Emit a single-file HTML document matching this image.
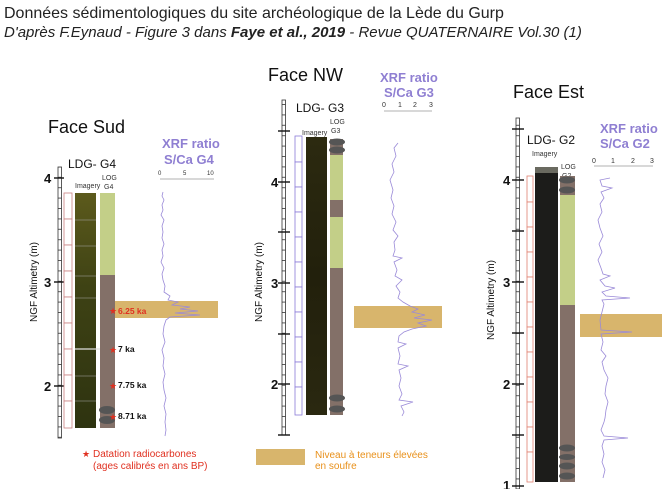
<!DOCTYPE html>
<html><head><meta charset="utf-8"><style>
body{margin:0;background:#fff;}
svg{display:block;font-family:"Liberation Sans",sans-serif;}
</style></head><body>
<svg width="672" height="489" viewBox="0 0 672 489" xmlns="http://www.w3.org/2000/svg">
<defs>
<pattern id="tk" width="4" height="10.4" patternUnits="userSpaceOnUse"><line x1="0" y1="0.5" x2="4" y2="0.5" stroke="#333" stroke-width="0.8"/></pattern>
<linearGradient id="olive" x1="0" y1="0" x2="0" y2="1"><stop offset="0" stop-color="#5c5a1c"/><stop offset="0.4" stop-color="#3e4214"/><stop offset="1" stop-color="#2e3310"/></linearGradient>
<linearGradient id="olive2" x1="0" y1="0" x2="0" y2="1"><stop offset="0" stop-color="#2c2a10"/><stop offset="0.5" stop-color="#22200c"/><stop offset="1" stop-color="#2a2810"/></linearGradient>
</defs>
<text x="4" y="18" font-size="16" fill="#222">Données sédimentologiques du site archéologique de la Lède du Gurp</text>
<text x="4" y="37" font-size="15" fill="#222" font-style="italic">D'après F.Eynaud - Figure 3 dans <tspan font-weight="bold">Faye et al., 2019</tspan> - Revue QUATERNAIRE Vol.30 (1)</text>

<!-- ===== Face Sud ===== -->
<text x="48" y="133" font-size="18" fill="#111">Face Sud</text>
<text x="68" y="168" font-size="12" fill="#111">LDG- G4</text>
<text x="75" y="188" font-size="7" fill="#333">Imagery</text>
<text x="102" y="180" font-size="7" fill="#333">LOG</text>
<text x="104" y="189" font-size="7" fill="#333">G4</text>
<text x="162" y="148" font-size="13" font-weight="bold" fill="#8f7fd2">XRF ratio</text>
<text x="164" y="164" font-size="13" font-weight="bold" fill="#8f7fd2">S/Ca G4</text>
<text x="158" y="175" font-size="6" fill="#333">0</text><text x="183" y="175" font-size="6" fill="#333">5</text><text x="207" y="175" font-size="6" fill="#333">10</text>
<line x1="160" y1="179" x2="214" y2="179" stroke="#999" stroke-width="0.7"/>
<rect x="58" y="167" width="3.5" height="271" fill="#fff" stroke="#333" stroke-width="0.8"/>
<rect x="58" y="167" width="3.5" height="271" fill="url(#tk)"/>
<g stroke="#111" stroke-width="1.4"><line x1="54" y1="178" x2="64" y2="178"/><line x1="54" y1="282" x2="64" y2="282"/><line x1="54" y1="386" x2="64" y2="386"/></g>
<g font-size="13" font-weight="bold" fill="#111"><text x="44" y="183">4</text><text x="44" y="287">3</text><text x="44" y="391">2</text></g>
<text transform="translate(37,282) rotate(-90)" font-size="10" text-anchor="middle" fill="#111">NGF Altimetry (m)</text>
<g fill="#fff" stroke="#c98080" stroke-width="0.8">
<rect x="64" y="193" width="8" height="26"/><rect x="64" y="219" width="8" height="26"/><rect x="64" y="245" width="8" height="26"/><rect x="64" y="271" width="8" height="26"/><rect x="64" y="297" width="8" height="26"/><rect x="64" y="323" width="8" height="26"/><rect x="64" y="349" width="8" height="26"/><rect x="64" y="375" width="8" height="26"/><rect x="64" y="401" width="8" height="27"/></g>
<rect x="75" y="193" width="21" height="235" fill="url(#olive)"/>
<g stroke="#aaa" stroke-width="0.6"><line x1="75" y1="220" x2="96" y2="220"/><line x1="75" y1="246" x2="96" y2="246"/><line x1="75" y1="276" x2="96" y2="276"/><line x1="75" y1="298" x2="96" y2="298"/><line x1="75" y1="376" x2="96" y2="376"/><line x1="75" y1="401" x2="96" y2="401"/></g>
<line x1="75" y1="349" x2="100" y2="349" stroke="#ddd" stroke-width="1.2"/>
<rect x="100" y="193" width="15" height="82" fill="#c3cf88"/>
<rect x="100" y="275" width="15" height="153" fill="#837068"/>
<ellipse cx="107" cy="410" rx="8" ry="4" fill="#555"/><ellipse cx="107" cy="420" rx="8" ry="4" fill="#555"/>
<rect x="115" y="301" width="103" height="17" fill="#d8b56c"/>
<polyline fill="none" stroke="#9a8ad8" stroke-width="0.8" points="163,192 162,196 164,200 162,205 163,210 161,215 164,220 162,226 163,232 162,238 164,244 162,250 163,256 161,262 164,268 162,274 163,280 165,286 164,292 170,296 168,300 178,302 172,305 190,307 180,309 198,311 175,313 200,315 170,317 166,320 164,326 163,334 165,342 162,350 164,358 163,366 165,374 163,382 164,390 166,398 164,406 166,414 165,422 166,430 165,436"/>
<g font-size="8.5" font-weight="bold"><text x="118" y="314" fill="#e03020">6.25 ka</text><text x="118" y="352" fill="#111">7 ka</text><text x="118" y="388" fill="#111">7.75 ka</text><text x="118" y="419" fill="#111">8.71 ka</text></g>
<g font-size="9" fill="#e03020"><text x="109" y="314">★</text><text x="109" y="353">★</text><text x="109" y="389">★</text><text x="109" y="420">★</text></g>
<text x="82" y="457" font-size="9" fill="#e03020">★</text>
<text x="93" y="457" font-size="10" fill="#e03020">Datation radiocarbones</text>
<text x="93" y="469" font-size="10" fill="#e03020">(ages calibrés en ans BP)</text>

<!-- ===== Face NW ===== -->
<text x="268" y="81" font-size="18" fill="#111">Face NW</text>
<text x="296" y="112" font-size="12" fill="#111">LDG- G3</text>
<text x="302" y="135" font-size="7" fill="#333">Imagery</text>
<text x="330" y="124" font-size="7" fill="#333">LOG</text>
<text x="331" y="133" font-size="7" fill="#333">G3</text>
<text x="380" y="82" font-size="13" font-weight="bold" fill="#8f7fd2">XRF ratio</text>
<text x="384" y="97" font-size="13" font-weight="bold" fill="#8f7fd2">S/Ca G3</text>
<g font-size="7" fill="#333"><text x="382" y="107">0</text><text x="398" y="107">1</text><text x="413" y="107">2</text><text x="429" y="107">3</text></g>
<line x1="384" y1="111" x2="432" y2="111" stroke="#999" stroke-width="0.7"/>
<rect x="282" y="100" width="3.5" height="335" fill="#fff" stroke="#333" stroke-width="0.8"/>
<rect x="282" y="100" width="3.5" height="335" fill="url(#tk)"/>
<g stroke="#111" stroke-width="1.4"><line x1="278" y1="131" x2="290" y2="131"/><line x1="278" y1="182" x2="290" y2="182"/><line x1="278" y1="232" x2="290" y2="232"/><line x1="278" y1="283" x2="290" y2="283"/><line x1="278" y1="334" x2="290" y2="334"/><line x1="278" y1="384" x2="290" y2="384"/><line x1="278" y1="435" x2="290" y2="435"/></g>
<g font-size="13" font-weight="bold" fill="#111"><text x="271" y="187">4</text><text x="271" y="288">3</text><text x="271" y="389">2</text></g>
<text transform="translate(262,282) rotate(-90)" font-size="10" text-anchor="middle" fill="#111">NGF Altimetry (m)</text>
<g fill="#fff" stroke="#8a7ad8" stroke-width="0.8">
<rect x="295" y="136" width="7" height="26"/><rect x="295" y="162" width="7" height="25"/><rect x="295" y="187" width="7" height="25"/><rect x="295" y="212" width="7" height="25"/><rect x="295" y="237" width="7" height="25"/><rect x="295" y="262" width="7" height="25"/><rect x="295" y="287" width="7" height="25"/><rect x="295" y="312" width="7" height="25"/><rect x="295" y="337" width="7" height="25"/><rect x="295" y="362" width="7" height="25"/><rect x="295" y="387" width="7" height="28"/></g>
<rect x="306" y="137" width="21" height="278" fill="url(#olive2)"/>
<rect x="330" y="139" width="13" height="276" fill="#837068"/>
<rect x="330" y="155" width="13" height="45" fill="#c3cf88"/>
<rect x="330" y="217" width="13" height="51" fill="#c3cf88"/>
<g fill="#555"><ellipse cx="337" cy="142" rx="8" ry="3.5"/><ellipse cx="337" cy="150" rx="8" ry="3.5"/><ellipse cx="337" cy="398" rx="8" ry="3.5"/><ellipse cx="337" cy="409" rx="8" ry="3.5"/></g>
<rect x="354" y="306" width="88" height="22" fill="#d8b56c"/>
<polyline fill="none" stroke="#9a8ad8" stroke-width="0.8" points="398,143 394,148 396,156 392,164 394,172 390,180 393,190 391,198 394,206 392,214 396,222 393,230 398,236 394,242 395,250 393,256 402,258 394,262 397,270 395,276 402,280 396,286 400,292 398,298 403,302 410,306 418,309 412,312 425,315 414,318 432,320 418,323 426,326 412,329 404,332 399,336 398,342 406,344 398,348 400,356 398,364 408,366 399,370 401,378 399,386 402,394 399,400 413,402 401,406 404,412 402,416"/>
<rect x="256" y="449" width="49" height="16" fill="#d8b56c"/>
<text x="315" y="458" font-size="10" fill="#e8901a">Niveau à teneurs élevées</text>
<text x="315" y="469" font-size="10" fill="#e8901a">en soufre</text>

<!-- ===== Face Est ===== -->
<text x="513" y="98" font-size="18" fill="#111">Face Est</text>
<text x="527" y="144" font-size="12" fill="#111">LDG- G2</text>
<text x="532" y="156" font-size="7" fill="#333">Imagery</text>
<text x="561" y="169" font-size="7" fill="#333">LOG</text>
<text x="562" y="178" font-size="7" fill="#333">G2</text>
<text x="600" y="133" font-size="13" font-weight="bold" fill="#8f7fd2">XRF ratio</text>
<text x="600" y="148" font-size="13" font-weight="bold" fill="#8f7fd2">S/Ca G2</text>
<g font-size="7" fill="#333"><text x="592" y="163">0</text><text x="611" y="163">1</text><text x="631" y="163">2</text><text x="650" y="163">3</text></g>
<line x1="594" y1="166" x2="653" y2="166" stroke="#999" stroke-width="0.7"/>
<rect x="516" y="118" width="3.5" height="371" fill="#fff" stroke="#333" stroke-width="0.8"/>
<rect x="516" y="118" width="3.5" height="371" fill="url(#tk)"/>
<g stroke="#111" stroke-width="1.4"><line x1="512" y1="129" x2="524" y2="129"/><line x1="512" y1="180" x2="524" y2="180"/><line x1="512" y1="231" x2="524" y2="231"/><line x1="512" y1="282" x2="524" y2="282"/><line x1="512" y1="333" x2="524" y2="333"/><line x1="512" y1="384" x2="524" y2="384"/><line x1="512" y1="435" x2="524" y2="435"/><line x1="512" y1="486" x2="524" y2="486"/></g>
<g font-size="13" font-weight="bold" fill="#111"><text x="503" y="185">4</text><text x="503" y="287">3</text><text x="503" y="389">2</text><text x="503" y="490">1</text></g>
<text transform="translate(494,300) rotate(-90)" font-size="10" text-anchor="middle" fill="#111">NGF Altimetry (m)</text>
<g fill="#fff" stroke="#e08070" stroke-width="0.8">
<rect x="527" y="176" width="6" height="26"/><rect x="527" y="202" width="6" height="25"/><rect x="527" y="227" width="6" height="25"/><rect x="527" y="252" width="6" height="25"/><rect x="527" y="277" width="6" height="25"/><rect x="527" y="302" width="6" height="25"/><rect x="527" y="327" width="6" height="25"/><rect x="527" y="352" width="6" height="25"/><rect x="527" y="377" width="6" height="25"/><rect x="527" y="402" width="6" height="25"/><rect x="527" y="427" width="6" height="25"/><rect x="527" y="452" width="6" height="30"/></g>
<rect x="535" y="167" width="23" height="315" fill="#1c1c1a"/>
<rect x="535" y="167" width="23" height="6" fill="#6a6a60"/>
<rect x="560" y="176" width="15" height="306" fill="#837068"/>
<rect x="560" y="195" width="15" height="110" fill="#c3cf88"/>
<g fill="#555"><ellipse cx="567" cy="180" rx="8" ry="3.5"/><ellipse cx="567" cy="190" rx="8" ry="3.5"/><ellipse cx="567" cy="448" rx="8" ry="3.5"/><ellipse cx="567" cy="457" rx="8" ry="3"/><ellipse cx="567" cy="466" rx="8" ry="3.5"/><ellipse cx="567" cy="476" rx="8" ry="3.5"/></g>
<rect x="580" y="314" width="82" height="23" fill="#d8b56c"/>
<polyline fill="none" stroke="#9a8ad8" stroke-width="0.8" points="610,178 600,180 602,186 612,188 601,192 604,198 600,204 602,212 598,220 600,228 603,236 599,244 602,252 598,260 601,268 603,274 610,276 600,280 605,286 615,288 602,292 606,296 630,298 602,300 604,304 602,312 600,320 601,330 632,332 601,334 603,342 601,350 606,356 602,362 604,370 608,378 606,386 605,394 608,402 606,410 605,418 604,422 601,430 604,436 628,438 604,440 602,446 604,454 602,462 605,470 603,478"/>
</svg>
</body></html>
